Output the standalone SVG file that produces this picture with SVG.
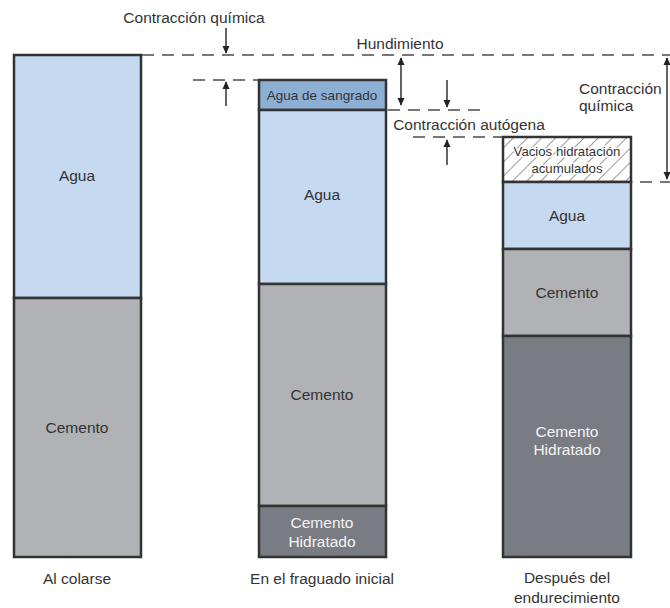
<svg xmlns="http://www.w3.org/2000/svg" width="670" height="608" viewBox="0 0 670 608">
<style>
text{font-family:"Liberation Sans",Arial,sans-serif;font-size:15.5px;fill:#333;text-anchor:middle}
.w{fill:#f4f4f4}
.s{font-size:13.5px}
.h{font-size:13.2px;stroke:#fff;stroke-width:3px;paint-order:stroke;stroke-linejoin:round}
.l{text-anchor:start}
.box{stroke:#333;stroke-width:2.5}
.wa{fill:#c5d9f0}
.bl{fill:#8eafd4}
.ce{fill:#b1b2b6}
.hy{fill:#7a7c84}
.d{stroke:#777;stroke-width:2;stroke-dasharray:12 8;fill:none}
.a{stroke:#222;stroke-width:1.4;fill:none}
</style>
<defs>
<marker id="ah" viewBox="0 0 10 10" refX="9" refY="5" markerWidth="8" markerHeight="8" orient="auto-start-reverse" markerUnits="userSpaceOnUse">
<path d="M0,0.5 L10,5 L0,9.5 Z" fill="#222"/>
</marker>
<pattern id="hatch" width="10" height="10" patternUnits="userSpaceOnUse" patternTransform="rotate(45)">
<rect width="10" height="10" fill="#fff"/>
<line x1="0" y1="0" x2="0" y2="10" stroke="#333" stroke-width="1"/>
</pattern>
</defs>

<g id="connectors">
<line class="d" x1="142" y1="55" x2="670" y2="55"/>
<line class="d" x1="193" y1="80" x2="258" y2="80"/>
<line class="d" x1="388" y1="110" x2="480" y2="110"/>
<line class="d" x1="413" y1="137" x2="502" y2="137"/>
<line class="d" x1="640" y1="182" x2="670" y2="182"/>
<line class="a" x1="226" y1="28" x2="226" y2="53" marker-end="url(#ah)"/>
<line class="a" x1="226" y1="106" x2="226" y2="82" marker-end="url(#ah)"/>
<line class="a" x1="401" y1="58" x2="401" y2="105" marker-start="url(#ah)" marker-end="url(#ah)"/>
<line class="a" x1="447" y1="80" x2="447" y2="107" marker-end="url(#ah)"/>
<line class="a" x1="447" y1="165" x2="447" y2="140" marker-end="url(#ah)"/>
<line class="a" x1="667" y1="58" x2="667" y2="179" marker-start="url(#ah)" marker-end="url(#ah)"/>
</g>

<g id="labels">
<text x="194" y="23">Contracción química</text>
<text x="400" y="49">Hundimiento</text>
<text x="469" y="130">Contracción autógena</text>
<text class="l" x="579" y="94">Contracción</text>
<text class="l" x="579" y="111">química</text>
</g>

<g id="col1">
<rect class="box wa" x="14" y="55" width="127" height="243"/>
<rect class="box ce" x="14" y="298" width="127" height="259"/>
<text x="77" y="181">Agua</text>
<text x="77" y="433">Cemento</text>
<text x="77" y="584">Al colarse</text>
</g>

<g id="col2">
<rect class="box bl" x="259" y="80" width="127" height="30"/>
<rect class="box wa" x="259" y="110" width="127" height="174"/>
<rect class="box ce" x="259" y="284" width="127" height="222"/>
<rect class="box hy" x="259" y="506" width="127" height="51"/>
<text class="s" x="322" y="100">Agua de sangrado</text>
<text x="322" y="200">Agua</text>
<text x="322" y="400">Cemento</text>
<text class="w" x="322" y="528">Cemento</text>
<text class="w" x="322" y="547">Hidratado</text>
<text x="322" y="584">En el fraguado inicial</text>
</g>

<g id="col3">
<rect class="box" fill="url(#hatch)" x="503" y="137" width="128" height="45"/>
<rect class="box wa" x="503" y="182" width="128" height="67"/>
<rect class="box ce" x="503" y="249" width="128" height="87"/>
<rect class="box hy" x="503" y="336" width="128" height="221"/>
<text class="h" x="567" y="156">Vacios hidratación</text>
<text class="h" x="567" y="173">acumulados</text>
<text x="567" y="221">Agua</text>
<text x="567" y="298">Cemento</text>
<text class="w" x="567" y="437">Cemento</text>
<text class="w" x="567" y="455">Hidratado</text>
<text x="567" y="583">Después del</text>
<text x="567" y="603">endurecimiento</text>
</g>
</svg>
